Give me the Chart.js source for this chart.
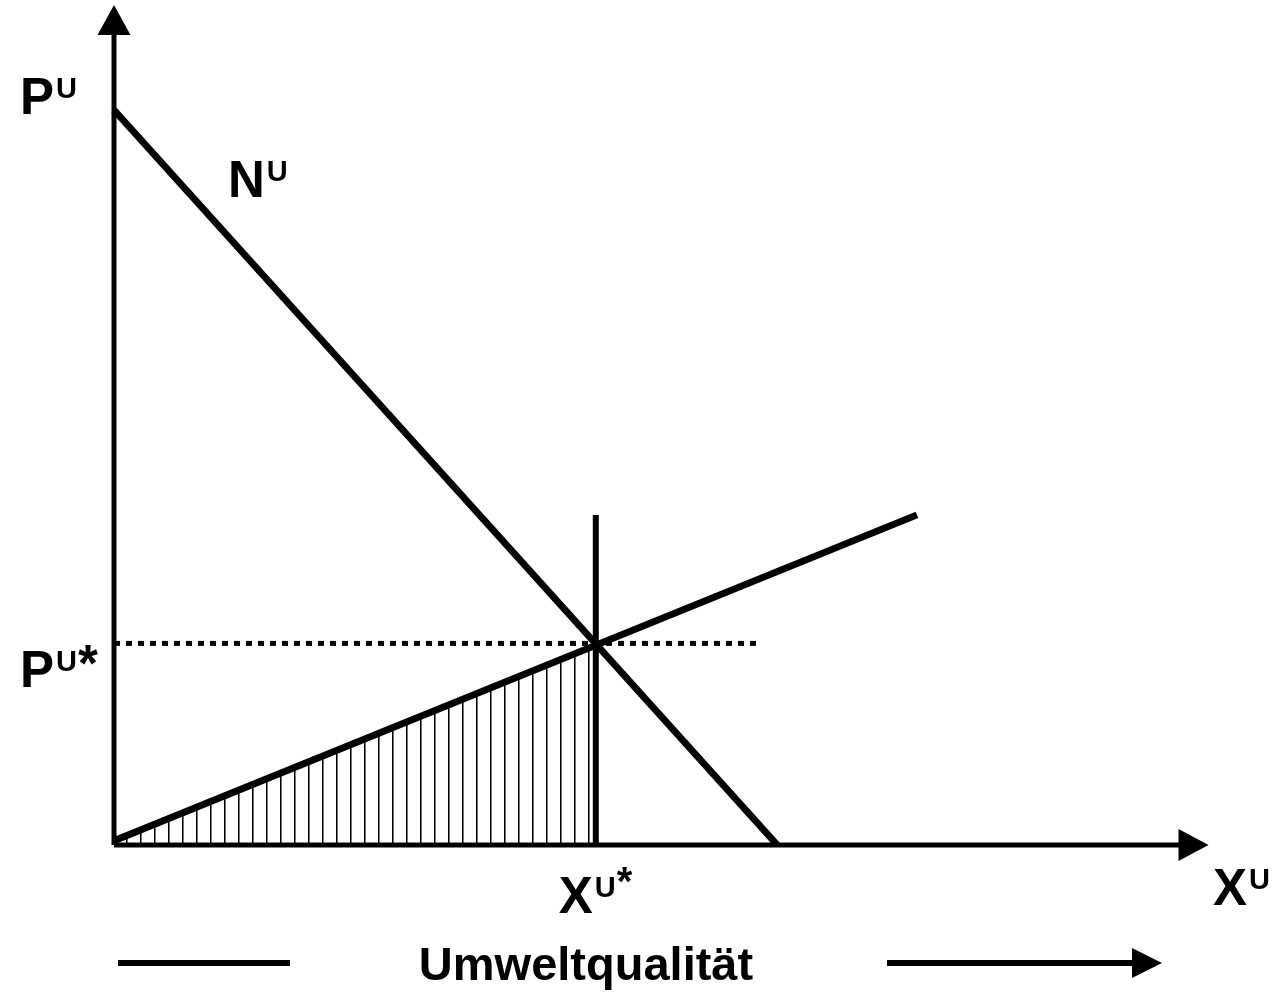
<!DOCTYPE html>
<html>
<head>
<meta charset="utf-8">
<script src="https://cdn.jsdelivr.net/npm/chart.js@4.4.1/dist/chart.umd.min.js"></script>
<style>
  html, body { margin: 0; padding: 0; background: #fff; }
  canvas { display: block; }
</style>
</head>
<body>
<canvas id="chart" width="1277" height="993"></canvas>
<script>
// ---------- data (x: Umweltqualität, y: price) ----------
const demandX = [0, 6.03];      // N^U
const demandY = [8.75, 0];
const supplyX = [0, 7.3];
const supplyY = [0.05, 3.93];
const eqX = 4.38;               // X^U*
const eqY = 2.40;               // P^U*
const vertY = [0, 3.93];        // vertical line at X^U*
const dottedX = [0, 5.86];      // dotted line at P^U*
const axisTipX = 9.95;
const axisTipY = 10;

const pts = (xs, ys) => xs.map((x, i) => ({ x: x, y: ys[i] }));

// vertical hatching for the shaded triangle
function makeHatch(ctx) {
  const p = document.createElement('canvas');
  p.width = 14; p.height = 14;
  const g = p.getContext('2d');
  g.fillStyle = '#000';
  g.fillRect(0, 0, 1, 14);
  g.fillStyle = 'rgba(0,0,0,0.55)';
  g.fillRect(1, 0, 1, 14);
  return ctx.createPattern(p, 'repeat');
}

const canvas = document.getElementById('chart');
const ctx = canvas.getContext('2d');

// ---------- arrows and labels ----------
const decorations = {
  id: 'decorations',
  afterDatasetsDraw(chart) {
    const c = chart.ctx;
    const xs = chart.scales.x, ys = chart.scales.y;
    const x0 = xs.getPixelForValue(0), y0 = ys.getPixelForValue(0);
    c.save();
    c.fillStyle = '#000';
    c.strokeStyle = '#000';

    // axis arrow heads
    const ty = ys.getPixelForValue(axisTipY);
    c.beginPath();
    c.moveTo(x0, ty); c.lineTo(x0 - 16.5, ty + 30); c.lineTo(x0 + 16.5, ty + 30);
    c.closePath(); c.fill();
    const tx = xs.getPixelForValue(axisTipX);
    c.beginPath();
    c.moveTo(tx, y0); c.lineTo(tx - 30, y0 - 16); c.lineTo(tx - 30, y0 + 16);
    c.closePath(); c.fill();

    const big = 'bold 51px "Liberation Sans", Arial, sans-serif';
    const sup = 'bold 29px "Liberation Sans", Arial, sans-serif';
    c.textBaseline = 'alphabetic';
    c.textAlign = 'left';
    // star: 'big' = large star at superscript level, 'small' = raised star
    function label(main, x, y, supText, star) {
      c.font = big;
      c.fillText(main, x, y);
      const w = c.measureText(main).width;
      c.font = sup;
      c.fillText(supText, x + w + 2, y - 16);
      const w2 = c.measureText(supText).width;
      if (star === 'big') {
        c.font = big;
        c.fillText('*', x + w + w2 + 3, y - 6);
      } else if (star === 'small') {
        c.font = 'bold 40px "Liberation Sans", Arial, sans-serif';
        c.fillText('*', x + w + w2 + 3, y - 18);
      }
    }
    label('P', 20, 114, 'U');
    label('N', 228, 197, 'U');
    label('P', 20, ys.getPixelForValue(eqY) + 44, 'U', 'big');
    label('X', xs.getPixelForValue(eqX) - 37, 913, 'U', 'small');
    label('X', 1213, 905, 'U');

    // bottom caption with arrow
    c.font = 'bold 47px "Liberation Sans", Arial, sans-serif';
    c.textAlign = 'center';
    c.fillText('Umweltqualität', 586, 980);
    c.lineWidth = 6;
    c.beginPath();
    c.moveTo(118, 963); c.lineTo(290, 963);
    c.moveTo(887, 963); c.lineTo(1135, 963);
    c.stroke();
    c.beginPath();
    c.moveTo(1162, 963); c.lineTo(1132, 948); c.lineTo(1132, 978);
    c.closePath(); c.fill();
    c.restore();
  }
};

const line = (data, extra) => Object.assign({
  data: data,
  borderColor: '#000',
  borderWidth: 7,
  pointRadius: 0,
  fill: false,
  tension: 0,
  clip: false
}, extra || {});

new Chart(ctx, {
  type: 'line',
  data: {
    datasets: [
      line(pts([0, eqX], [supplyY[0], eqY]), {
        borderWidth: 0, fill: 'origin', backgroundColor: makeHatch(ctx), order: 5
      }),
      line(pts([0, 0], [0, axisTipY - 0.3]), { borderWidth: 5 }),
      line(pts([0, axisTipX - 0.25], [0, 0]), { borderWidth: 5 }),
      line(pts(dottedX, [eqY, eqY]), { borderWidth: 5, borderDash: [6, 6] }),
      line(pts([eqX, eqX], vertY), { borderWidth: 6 }),
      line(pts(demandX, demandY)),
      line(pts(supplyX, supplyY))
    ]
  },
  options: {
    responsive: false,
    animation: false,
    events: [],
    layout: { padding: { left: 114, right: 63, top: 5, bottom: 148 } },
    plugins: { legend: { display: false }, tooltip: { enabled: false } },
    scales: {
      x: { type: 'linear', min: 0, max: 10, display: false },
      y: { type: 'linear', min: 0, max: 10, display: false }
    }
  },
  plugins: [decorations]
});
</script>
</body>
</html>
